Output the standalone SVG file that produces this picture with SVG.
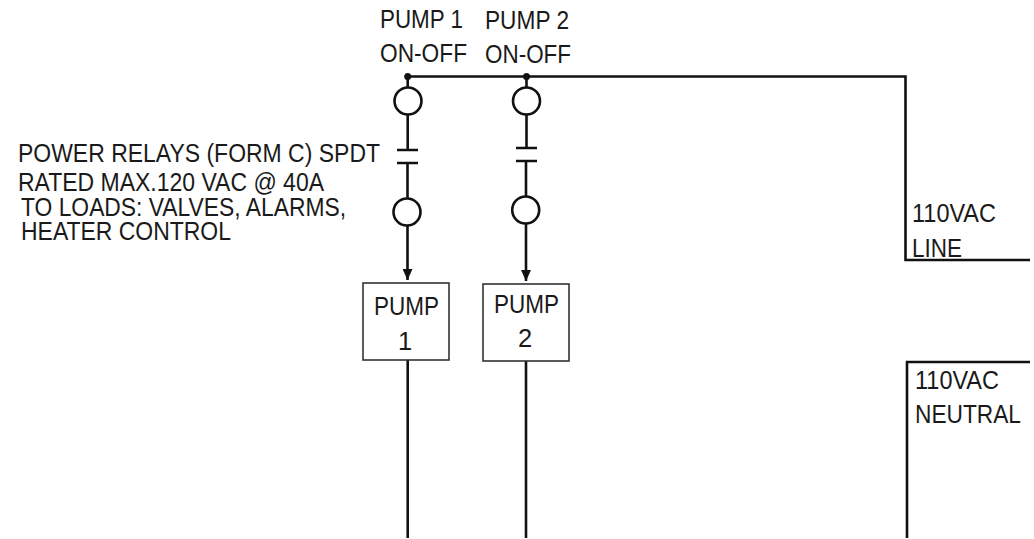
<svg xmlns="http://www.w3.org/2000/svg" width="1034" height="539" viewBox="0 0 1034 539">
<style>
text{font-family:"Liberation Sans",Arial,sans-serif;font-size:25.500px;fill:#1a1a1a}
.w{fill:none;stroke:#111;stroke-width:2.6}
.c{fill:#fff;stroke:#111;stroke-width:2.6}
.b{fill:#fff;stroke:#333;stroke-width:1.6}
</style>
<defs><marker id="ah" markerUnits="userSpaceOnUse" markerWidth="12" markerHeight="10" refX="11" refY="5" orient="auto"><path d="M0 0L11 5L0 10Z" fill="#111"/></marker></defs>
<rect width="1034" height="539" fill="#fff"/>
<g id="connectors">
<path class="w" d="M407.7 76.5H905.500V260H1030"/>
<path class="w" d="M1030 362H907V538"/>
<path class="w" d="M407.700 76.500V150M397 150H418M397 163H418M407.500 163V280" marker-end="url(#ah)"/>
<path class="w" d="M526.500 76.500V148M516 148H537M516 161H537M526 161V281" marker-end="url(#ah)"/>
<path class="w" d="M407.700 360V538"/>
<path class="w" d="M526 361V538"/>
<circle cx="407.700" cy="76.500" r="3.500" fill="#111"/>
<circle cx="526.500" cy="76.500" r="3.500" fill="#111"/>
</g>
<g id="relay1-top"><circle class="c" cx="408" cy="101" r="13.500"/></g>
<g id="relay2-top"><circle class="c" cx="526.500" cy="101" r="13.500"/></g>
<g id="relay1-bottom"><circle class="c" cx="407" cy="212" r="13.500"/></g>
<g id="relay2-bottom"><circle class="c" cx="525.700" cy="210" r="13.500"/></g>
<g id="pump1"><rect class="b" x="363" y="283" width="86" height="77"/><text x="374" y="315" textLength="65" lengthAdjust="spacingAndGlyphs">PUMP</text><text x="405" y="350" text-anchor="middle">1</text></g>
<g id="pump2"><rect class="b" x="483" y="284" width="86" height="77"/><text x="494" y="313" textLength="65" lengthAdjust="spacingAndGlyphs">PUMP</text><text x="525" y="347" text-anchor="middle">2</text></g>
<g id="labels">
<text x="380" y="28" textLength="83" lengthAdjust="spacingAndGlyphs">PUMP 1</text>
<text x="485" y="29" textLength="84" lengthAdjust="spacingAndGlyphs">PUMP 2</text>
<text x="380" y="62" textLength="87" lengthAdjust="spacingAndGlyphs">ON-OFF</text>
<text x="485" y="63" textLength="86" lengthAdjust="spacingAndGlyphs">ON-OFF</text>
<text x="18" y="162" textLength="362" lengthAdjust="spacingAndGlyphs">POWER RELAYS (FORM C) SPDT</text>
<text x="18" y="190.500" textLength="306" lengthAdjust="spacingAndGlyphs">RATED MAX.120 VAC @ 40A</text>
<text x="21" y="215.500" textLength="325" lengthAdjust="spacingAndGlyphs">TO LOADS: VALVES, ALARMS,</text>
<text x="21" y="240" textLength="210" lengthAdjust="spacingAndGlyphs">HEATER CONTROL</text>
<text x="912" y="222" textLength="84" lengthAdjust="spacingAndGlyphs">110VAC</text>
<text x="912" y="256.500" textLength="50" lengthAdjust="spacingAndGlyphs">LINE</text>
<text x="915" y="389" textLength="84" lengthAdjust="spacingAndGlyphs">110VAC</text>
<text x="915" y="423" textLength="106" lengthAdjust="spacingAndGlyphs">NEUTRAL</text>
</g>
</svg>
